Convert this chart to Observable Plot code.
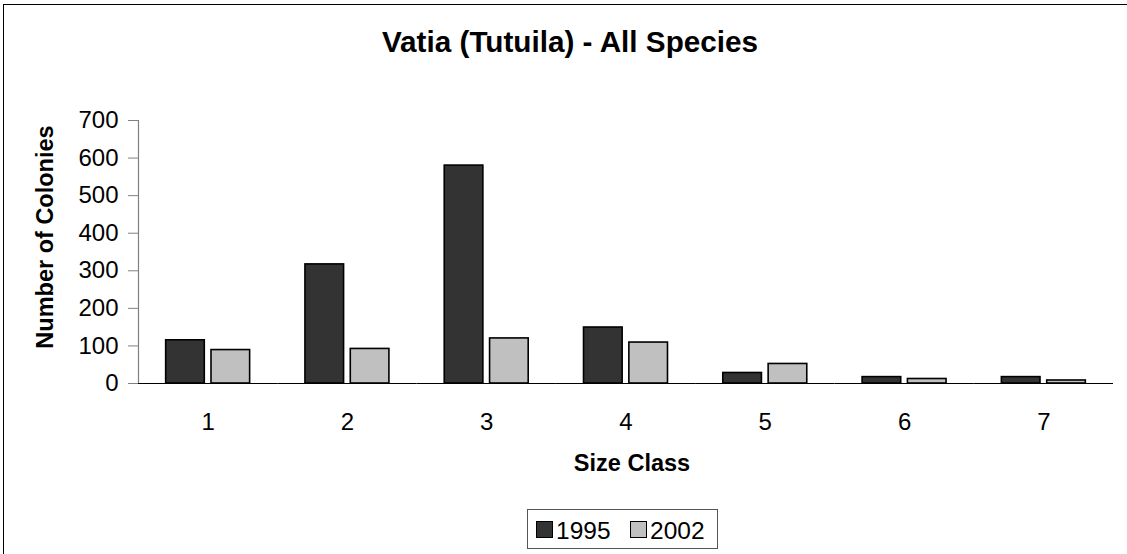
<!DOCTYPE html>
<html><head><meta charset="utf-8">
<script src="https://cdn.jsdelivr.net/npm/d3@7"></script>
<script src="https://cdn.jsdelivr.net/npm/@observablehq/plot@0.6"></script>
<style>
html,body{margin:0;padding:0;background:#fff;overflow:hidden;width:1127px;height:554px}
body{position:relative;font-family:"Liberation Sans",Arial,sans-serif;color:#000}
#frame{position:absolute;left:3px;top:4px;width:1200px;height:600px;border:1px solid #000;box-sizing:border-box}
#chart{position:absolute;left:0;top:0}
.t{position:absolute;white-space:nowrap;line-height:1}
#title{left:270px;width:600px;top:27px;text-align:center;font-weight:bold;font-size:29.7px}
#ylab{left:45.5px;top:236.5px;font-weight:bold;font-size:23.5px;transform:translate(-50%,-50%) rotate(-90deg)}
#xlab{left:632px;top:452px;font-weight:bold;font-size:23.5px;transform:translateX(-50%)}
#legend{position:absolute;left:527px;top:509px;width:191px;height:40px;border:1px solid #555;box-sizing:border-box;font-size:24.5px}
.item{position:absolute;top:0;height:40px}
.sw{position:absolute;top:11px;width:17px;height:17px;border:1px solid #000;box-sizing:border-box}
.lt{position:absolute;top:8.5px;line-height:1;white-space:nowrap}
</style></head><body>
<div id="frame"></div>
<div id="chart"></div>
<div id="title" class="t">Vatia (Tutuila) - All Species</div>
<div id="ylab" class="t">Number of Colonies</div>
<div id="xlab" class="t">Size Class</div>
<div id="legend"></div>
<script>
const sizeClasses = [1, 2, 3, 4, 5, 6, 7];
const years = ["1995", "2002"];
const counts1995 = [115, 317, 580, 149, 28, 17, 17];
const counts2002 = [89, 92, 120, 109, 52, 12, 8];
const yTicks = [0, 100, 200, 300, 400, 500, 600, 700];
const seriesColors = ["#333333", "#c0c0c0"];

const seriesValues = [counts1995, counts2002];
const data = [];
sizeClasses.forEach((s, i) => {
  years.forEach((y, j) => data.push({size: s, year: y, count: seriesValues[j][i]}));
});

const chart = Plot.plot({
  width: 1127,
  height: 440,
  marginLeft: 138,
  marginRight: 14,
  marginTop: 120,
  marginBottom: 57,
  style: {fontFamily: "'Liberation Sans', Arial, sans-serif", fontSize: "24px", background: "transparent", color: "#000", overflow: "visible"},
  fx: {domain: sizeClasses, paddingInner: 0, paddingOuter: 0, round: false, label: null},
  x: {domain: years, type: "band", paddingInner: 0.148, paddingOuter: 0.61, round: false, axis: null},
  y: {domain: [0, 700], label: null},
  color: {domain: years, range: seriesColors},
  marks: [
    Plot.frame({anchor: "left", facetAnchor: "left", stroke: "#808080", strokeWidth: 1.2}),
    Plot.barY(data, {fx: "size", x: "year", y: "count", fill: "year", stroke: "#000", strokeWidth: 1.6}),
    Plot.ruleY([0], {stroke: "#000", strokeWidth: 1.2}),
    Plot.axisY({ticks: yTicks, tickSize: 10, tickPadding: 10, label: null, stroke: "#808080", fill: "#000", fontSize: 24, tickFormat: d => String(d)}),
    Plot.axisFx({anchor: "bottom", tickSize: 0, tickPadding: 29, label: null, fill: "#000", fontSize: 24})
  ]
});
document.getElementById("chart").appendChild(chart);

const legend = document.getElementById("legend");
const swLeft = [8, 102];
years.forEach((y, j) => {
  const item = document.createElement("div");
  item.className = "item";
  item.style.left = swLeft[j] + "px";
  const sw = document.createElement("div");
  sw.className = "sw";
  sw.style.left = "0px";
  sw.style.background = seriesColors[j];
  const lt = document.createElement("div");
  lt.className = "lt";
  lt.style.left = "20px";
  lt.textContent = y;
  item.appendChild(sw);
  item.appendChild(lt);
  legend.appendChild(item);
});
</script>
</body></html>
